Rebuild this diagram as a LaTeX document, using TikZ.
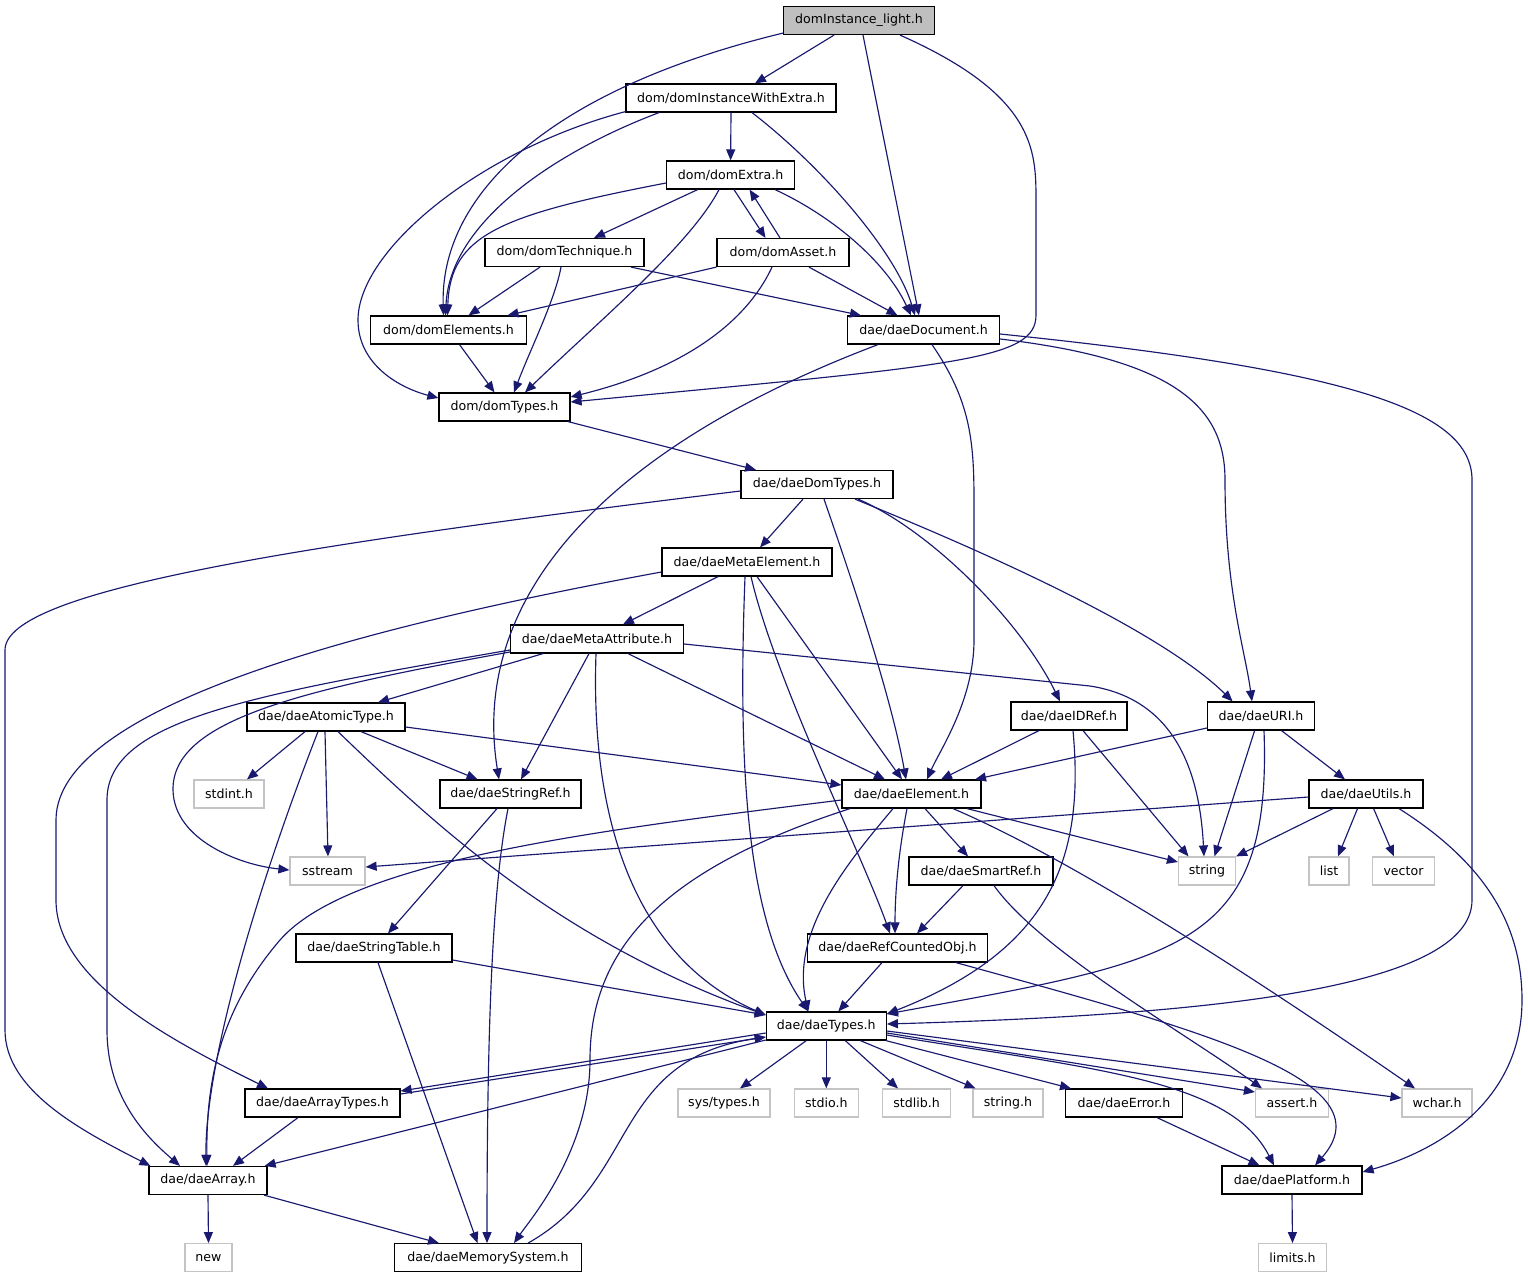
\documentclass[tikz,border=0pt]{standalone}
\usepackage{fontspec}
\setmainfont{DejaVu Sans}
\usetikzlibrary{arrows.meta,calc}
\definecolor{edgecol}{RGB}{25,25,112}
\definecolor{sysgray}{RGB}{196,196,196}
\definecolor{rootfill}{RGB}{191,191,191}
\begin{document}
\begin{tikzpicture}[x=1pt,y=-1pt,
  hbox/.style={draw=black,line width=1.2pt,minimum height=28pt,inner sep=0pt,font=\fontsize{12.6}{14}\selectfont},
  sbox/.style={draw=sysgray,line width=1.2pt,minimum height=28pt,inner sep=0pt,font=\fontsize{12.6}{14}\selectfont},
  rbox/.style={hbox,fill=rootfill},
  dep/.style={draw=edgecol,line width=1.15pt,-{Triangle[length=11pt,width=9pt]}}]
\useasboundingbox (0,0) rectangle (1528,1277);
\fill[white] (0,0) rectangle (1528,1277);
% nodes
\node[rbox,minimum width=151] (light) at (859,20.5) {domInstance\_light.h};
\node[hbox,minimum width=210] (iwe) at (731,98) {dom/domInstanceWithExtra.h};
\node[hbox,minimum width=128] (extra) at (730.6,175) {dom/domExtra.h};
\node[hbox,minimum width=159] (tech) at (564.5,252.5) {dom/domTechnique.h};
\node[hbox,minimum width=132] (asset) at (783,252.5) {dom/domAsset.h};
\node[hbox,minimum width=156] (elems) at (448.5,330) {dom/domElements.h};
\node[hbox,minimum width=152] (doc) at (923.5,330) {dae/daeDocument.h};
\node[hbox,minimum width=131] (domtypes) at (504.5,407) {dom/domTypes.h};
\node[hbox,minimum width=152] (ddt) at (817,484.5) {dae/daeDomTypes.h};
\node[hbox,minimum width=170] (metael) at (747,562) {dae/daeMetaElement.h};
\node[hbox,minimum width=173] (metaattr) at (597,639) {dae/daeMetaAttribute.h};
\node[hbox,minimum width=158] (atomic) at (326,717) {dae/daeAtomicType.h};
\node[sbox,minimum width=70] (stdint) at (229,794) {stdint.h};
\node[hbox,minimum width=141] (strref) at (510.5,794) {dae/daeStringRef.h};
\node[sbox,minimum width=75] (sstream) at (327.5,871) {sstream};
\node[hbox,minimum width=116] (idref) at (1069,716) {dae/daeIDRef.h};
\node[hbox,minimum width=107] (uri) at (1261,716) {dae/daeURI.h};
\node[hbox,minimum width=139] (element) at (911.5,794) {dae/daeElement.h};
\node[hbox,minimum width=114] (utils) at (1366,794) {dae/daeUtils.h};
\node[hbox,minimum width=144] (smartref) at (981,871) {dae/daeSmartRef.h};
\node[sbox,minimum width=57] (string) at (1207,871) {string};
\node[sbox,minimum width=40] (list) at (1329,871) {list};
\node[sbox,minimum width=62] (vector) at (1403.5,871) {vector};
\node[hbox,minimum width=156] (strtable) at (374,948) {dae/daeStringTable.h};
\node[hbox,minimum width=180] (refcount) at (897.5,948) {dae/daeRefCountedObj.h};
\node[hbox,minimum width=120] (types) at (826.3,1026) {dae/daeTypes.h};
\node[hbox,minimum width=155] (arraytypes) at (322.5,1103) {dae/daeArrayTypes.h};
\node[sbox,minimum width=92] (systypes) at (724,1103) {sys/types.h};
\node[sbox,minimum width=64] (stdio) at (826.3,1103) {stdio.h};
\node[sbox,minimum width=68] (stdlib) at (916.5,1103) {stdlib.h};
\node[sbox,minimum width=70] (stringh) at (1008,1103) {string.h};
\node[hbox,minimum width=117] (error) at (1124,1103) {dae/daeError.h};
\node[sbox,minimum width=73] (assert) at (1292,1103) {assert.h};
\node[sbox,minimum width=70] (wchar) at (1437,1103) {wchar.h};
\node[hbox,minimum width=118] (array) at (208,1180.5) {dae/daeArray.h};
\node[hbox,minimum width=140] (platform) at (1292,1180) {dae/daePlatform.h};
\node[sbox,minimum width=47] (new) at (208.5,1257.7) {new};
\node[hbox,minimum width=187] (memsys) at (488,1257.7) {dae/daeMemorySystem.h};
\node[sbox,minimum width=68] (limits) at (1292.5,1257.7) {limits.h};
% edges: domInstance_light
\draw[dep] ($(light.south)+(-25,0)$) -- ($(iwe.north)+(24,0)$);
\draw[dep] ($(light.south west)+(0,-2)$) .. controls (540,92) and (440,200) .. ($(elems.north)+(-5,0)$);
\draw[dep] ($(light.south)+(4,0)$) -- ($(doc.north)+(-4.5,0)$);
\draw[dep] ($(light.south)+(41,0)$) .. controls (1035,95) and (1036,150) .. (1036,200) -- (1036,315) .. controls (1036,360) and (960,365) .. ($(domtypes.east)+(0,-5)$);
% domInstanceWithExtra
\draw[dep] (iwe.south) -- (extra.north);
\draw[dep] ($(iwe.south)+(-72,0)$) .. controls (560,150) and (450,220) .. ($(elems.north)+(-3,0)$);
\draw[dep] ($(iwe.south)+(21,0)$) .. controls (820,165) and (895,250) .. ($(doc.north)+(-8.5,0)$);
\draw[dep] ($(iwe.south west)+(0,-1)$) .. controls (480,150) and (358,250) .. (358,320) .. controls (358,365) and (400,388) .. ($(domtypes.west)+(0,-9)$);
% domExtra
\draw[dep] ($(extra.south)+(-33,0)$) -- ($(tech.north)+(29.5,0)$);
\draw[dep] ($(extra.south)+(3.4,0)$) -- ($(asset.north)+(-17.5,0)$);
\draw[dep] ($(extra.west)+(0,8)$) .. controls (500,215) and (450,235) .. ($(elems.north)+(-1,0)$);
\draw[dep] ($(extra.south)+(-11.6,0)$) .. controls (690,245) and (600,320) .. ($(domtypes.north)+(20.5,0)$);
\draw[dep] ($(extra.south)+(44.4,0)$) .. controls (830,215) and (885,260) .. ($(doc.north)+(-12.5,0)$);
% domAsset
\draw[dep] ($(asset.north)+(-3,0)$) -- ($(extra.south)+(19,0)$);
\draw[dep] (asset.south west) -- ($(elems.north)+(59,0)$);
\draw[dep] ($(asset.south)+(-11,0)$) .. controls (745,325) and (680,370) .. ($(domtypes.east)+(0,-10)$);
\draw[dep] ($(asset.south)+(26,0)$) -- ($(doc.north)+(-26,0)$);
% domTechnique
\draw[dep] ($(tech.south)+(-24.5,0)$) -- ($(elems.north)+(20,0)$);
\draw[dep] ($(tech.south)+(-3.5,0)$) .. controls (555,300) and (530,350) .. ($(domtypes.north)+(9.5,0)$);
\draw[dep] ($(tech.south)+(66.5,0)$) -- ($(doc.north)+(-62.5,0)$);
% domElements, domTypes
\draw[dep] ($(elems.south)+(11,0)$) -- ($(domtypes.north)+(-10,0)$);
\draw[dep] ($(domtypes.south)+(63.5,0)$) -- ($(ddt.north)+(-61,0)$);
% daeDocument
\draw[dep] ($(doc.south)+(-45.5,0)$) .. controls (600,450) and (470,600) .. ($(strref.north)+(-11.5,0)$);
\draw[dep] ($(doc.south)+(8.5,0)$) .. controls (970,400) and (974,440) .. (974,500) -- (974,640) .. controls (974,700) and (940,750) .. ($(element.north)+(15.5,0)$);
\draw[dep] ($(doc.east)+(0,9)$) .. controls (1180,360) and (1225,410) .. (1225,480) .. controls (1225,590) and (1245,650) .. ($(uri.north)+(-9,0)$);
\draw[dep] ($(doc.east)+(0,4)$) .. controls (1350,370) and (1472,410) .. (1472,480) -- (1472,900) .. controls (1472,990) and (1200,1015) .. ($(types.east)+(0,-2)$);
% daeDomTypes
\draw[dep] ($(ddt.west)+(0,6.5)$) .. controls (300,545) and (5,590) .. (5,650) -- (5,1030) .. controls (5,1090) and (80,1130) .. ($(array.north west)+(2,0)$);
\draw[dep] ($(ddt.south)+(-14,0)$) -- ($(metael.north)+(13,0)$);
\draw[dep] ($(ddt.south)+(7,0)$) .. controls (845,560) and (890,690) .. ($(element.north)+(-5.5,0)$);
\draw[dep] ($(ddt.south)+(41,0)$) .. controls (930,530) and (1020,620) .. ($(idref.north)+(-9,0)$);
\draw[dep] ($(ddt.south)+(38,0)$) .. controls (930,530) and (1150,620) .. ($(uri.north)+(-28.4,0)$);
% daeMetaElement
\draw[dep] ($(metael.west)+(0,10)$) .. controls (400,620) and (56,700) .. (56,820) -- (56,900) .. controls (56,980) and (170,1040) .. ($(arraytypes.north)+(-54.5,0)$);
\draw[dep] ($(metael.south)+(-29,0)$) -- ($(metaattr.north)+(26,0)$);
\draw[dep] ($(metael.south)+(-2,0)$) .. controls (738,760) and (745,920) .. ($(types.north)+(-18,0)$);
\draw[dep] ($(metael.south)+(4,0)$) .. controls (775,680) and (860,850) .. ($(refcount.north)+(-7.5,0)$);
\draw[dep] ($(metael.south)+(10,0)$) -- ($(element.north)+(-9.5,0)$);
% daeMetaAttribute
\draw[dep] ($(metaattr.west)+(0,11)$) .. controls (250,695) and (107,720) .. (107,800) -- (107,1030) .. controls (107,1100) and (150,1140) .. ($(array.north)+(-28,0)$);
\draw[dep] ($(metaattr.west)+(0,13)$) .. controls (300,690) and (172,720) .. (173,790) .. controls (174,840) and (240,865) .. ($(sstream.west)+(0,-1)$);
\draw[dep] ($(metaattr.south)+(-54,0)$) -- ($(atomic.north)+(52,0)$);
\draw[dep] ($(metaattr.south)+(-8,0)$) -- ($(strref.north)+(10.5,0)$);
\draw[dep] ($(metaattr.south)+(-1,0)$) .. controls (590,830) and (640,960) .. ($(types.west)+(0,-11)$);
\draw[dep] ($(metaattr.south)+(31,0)$) -- ($(element.north)+(-26.5,0)$);
\draw[dep] ($(metaattr.east)+(0,5)$) -- (1090,686) .. controls (1180,700) and (1200,780) .. ($(string.north)+(-3,0)$);
% daeAtomicType
\draw[dep] ($(atomic.south)+(-21,0)$) -- ($(stdint.north)+(18,0)$);
\draw[dep] ($(atomic.south)+(-1,0)$) -- ($(sstream.north)+(0.5,0)$);
\draw[dep] ($(atomic.south)+(-8,0)$) .. controls (260,880) and (205,1060) .. ($(array.north)+(-2,0)$);
\draw[dep] ($(atomic.south)+(12,0)$) .. controls (440,830) and (560,940) .. ($(types.west)+(0,-11)$);
\draw[dep] ($(atomic.south)+(35,0)$) -- ($(strref.north)+(-33,0)$);
\draw[dep] ($(atomic.east)+(0,10)$) -- ($(element.west)+(0,-9)$);
% daeStringRef
\draw[dep] ($(strref.south)+(-13.5,0)$) -- ($(strtable.north)+(14,0)$);
\draw[dep] ($(strref.south)+(-2.5,0)$) .. controls (494,880) and (487,1000) .. ($(memsys.north)+(-1,0)$);
% daeIDRef
\draw[dep] ($(idref.south)+(-30,0)$) -- ($(element.north)+(29.5,0)$);
\draw[dep] ($(idref.south)+(14,0)$) -- ($(string.north)+(-18.5,0)$);
\draw[dep] ($(idref.south)+(4,0)$) .. controls (1085,860) and (1050,950) .. ($(types.east)+(0,-12)$);
% daeURI
\draw[dep] ($(uri.west)+(0,12)$) -- ($(element.north)+(63.5,0)$);
\draw[dep] ($(uri.south)+(-6.4,0)$) -- ($(string.north)+(7.5,0)$);
\draw[dep] ($(uri.south)+(20.5,0)$) -- ($(utils.north)+(-21,0)$);
\draw[dep] ($(uri.south)+(3,0)$) .. controls (1272,950) and (1180,960) .. ($(types.east)+(0,-12)$);
% daeUtils
\draw[dep] ($(utils.west)+(0,3)$) -- ($(sstream.east)+(0,-4)$);
\draw[dep] ($(utils.south)+(-33,0)$) -- (string.north east);
\draw[dep] ($(utils.south)+(-8.5,0)$) -- ($(list.north)+(9,0)$);
\draw[dep] ($(utils.south)+(7.6,0)$) -- ($(vector.north)+(-9.5,0)$);
\draw[dep] ($(utils.south)+(33,0)$) .. controls (1480,860) and (1522,920) .. (1522,1000) .. controls (1522,1100) and (1440,1150) .. ($(platform.east)+(0,-8)$);
% daeElement
\draw[dep] ($(element.west)+(0,6)$) .. controls (600,830) and (350,860) .. (280,940) .. controls (220,1010) and (206,1080) .. ($(array.north)+(-1,0)$);
\draw[dep] ($(element.south)+(-61.5,0)$) .. controls (660,870) and (590,950) .. (590,1060) .. controls (590,1150) and (530,1220) .. ($(memsys.north)+(26,0)$);
\draw[dep] ($(element.south)+(-18.5,0)$) .. controls (850,860) and (790,930) .. ($(types.north)+(-18,0)$);
\draw[dep] ($(element.south)+(-4.5,0)$) .. controls (897,860) and (895,900) .. ($(refcount.north)+(-2.5,0)$);
\draw[dep] ($(element.south)+(13.5,0)$) -- ($(smartref.north)+(-13,0)$);
\draw[dep] ($(element.south)+(55.5,0)$) -- ($(string.west)+(0,-9)$);
\draw[dep] ($(element.south)+(41.5,0)$) .. controls (1050,850) and (1200,940) .. ($(wchar.north)+(-22,0)$);
% daeSmartRef
\draw[dep] ($(smartref.south)+(-18,0)$) -- ($(refcount.north)+(19.5,0)$);
\draw[dep] ($(smartref.south)+(13,0)$) .. controls (1040,950) and (1180,1030) .. ($(assert.north)+(-30,0)$);
% daeStringTable
\draw[dep] ($(strtable.east)+(0,12)$) -- ($(types.west)+(0,-11)$);
\draw[dep] ($(strtable.south)+(4,0)$) -- ($(memsys.north)+(-10.5,0)$);
% daeRefCountedObj
\draw[dep] ($(refcount.south)+(-15.5,0)$) -- ($(types.north)+(12,0)$);
\draw[dep] ($(refcount.south)+(58.5,0)$) .. controls (1200,1030) and (1390,1080) .. ($(platform.north)+(23,0)$);
% daeTypes
\draw[dep] ($(types.west)+(0,7)$) -- ($(arraytypes.east)+(0,-12)$);
\draw[dep] ($(arraytypes.east)+(0,-9)$) -- ($(types.west)+(0,11)$);
\draw[dep] ($(types.west)+(0,14)$) -- ($(array.north east)+(-3,0)$);
\draw[dep] ($(memsys.north)+(40,0)$) .. controls (640,1180) and (610,1060) .. ($(types.west)+(0,11)$);
\draw[dep] ($(types.south)+(-20,0)$) -- ($(systypes.north)+(16,0)$);
\draw[dep] (types.south) -- (stdio.north);
\draw[dep] ($(types.south)+(19,0)$) -- ($(stdlib.north)+(-18.5,0)$);
\draw[dep] ($(types.south)+(34,0)$) -- ($(stringh.north)+(-32.5,0)$);
\draw[dep] ($(types.south east)+(-1,0)$) -- ($(error.north)+(-53,0)$);
\draw[dep] ($(types.east)+(0,7)$) -- ($(assert.west)+(0,-11)$);
\draw[dep] ($(types.east)+(0,5)$) -- ($(wchar.west)+(0,-5)$);
\draw[dep] ($(types.east)+(0,9)$) .. controls (1100,1070) and (1230,1080) .. ($(platform.north)+(-18,0)$);
% daeArrayTypes, daeArray, daeError, daePlatform
\draw[dep] ($(arraytypes.south)+(-24.5,0)$) -- ($(array.north)+(25,0)$);
\draw[dep] (array.south) -- (new.north);
\draw[dep] ($(array.south)+(56,0)$) -- ($(memsys.north)+(-49,0)$);
\draw[dep] ($(error.south)+(33,0)$) -- ($(platform.north)+(-32.5,0)$);
\draw[dep] (platform.south) -- (limits.north);
\end{tikzpicture}
\end{document}
